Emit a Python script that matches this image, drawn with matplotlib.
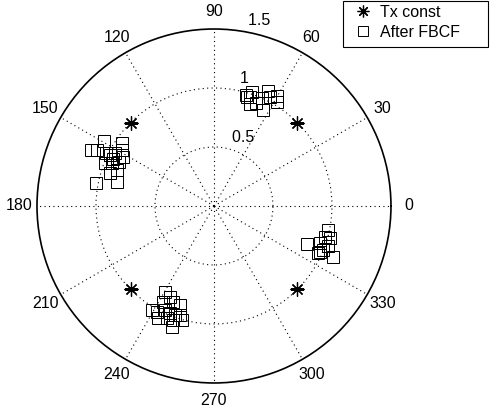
import numpy as np
import matplotlib
matplotlib.use('Agg')
from matplotlib import pyplot as plt
from matplotlib.patches import Rectangle

plt.rcParams['font.family'] = ['Liberation Sans', 'DejaVu Sans']
plt.rcParams['font.size'] = 11.5

# transmitted constellation (deg, radius)
tx_theta = [45, 135, 225, 315]
tx_r = [1.0, 1.0, 1.0, 1.0]

# received symbols after FBCF, four clusters (deg, radius)
c1_theta = [74.1, 71.6, 71.7, 66.0, 67.8, 63.0, 64.8, 62.8, 60.2, 58.8, 70.6, 73.2]
c1_r = [0.978, 1.018, 0.973, 1.000, 0.943, 0.913, 1.077, 1.038, 1.074, 1.030, 0.917, 0.965]
c2_theta = [149.4, 155.6, 154.5, 154.0, 145.6, 148.8, 153.9, 152.0, 151.5, 158.6,
            157.3, 154.9, 162.5, 159.7, 169.1, 166.0, 155.1]
c2_r = [1.083, 1.148, 1.102, 1.018, 0.949, 0.915, 0.982, 0.950, 0.875, 0.992,
        0.940, 0.886, 0.924, 0.879, 1.018, 0.850, 0.941]
c3_theta = [348.1, 344.5, 344.4, 337.7, 340.6, 340.7, 336.7, 335.6, 336.7, 338.1]
c3_r = [0.990, 0.976, 1.020, 0.849, 0.952, 1.026, 0.978, 0.971, 1.101, 0.998]
c4_theta = [240.2, 244.1, 242.1, 247.0, 251.0, 239.1, 241.5, 244.8, 247.7, 250.3,
            252.7, 243.6, 247.2, 250.3, 254.2, 250.7]
c4_r = [0.836, 0.854, 0.918, 0.881, 0.887, 1.027, 1.019, 0.974, 0.983, 0.981,
        0.968, 1.062, 1.033, 1.026, 1.004, 1.084]

rmax = 1.5
r_ticks = [0.5, 1.0, 1.5]
r_labels = ['0.5', '1', '1.5']
theta_ticks = list(range(0, 360, 30))

fig = plt.figure(figsize=(4.9, 4.09), dpi=100)
ax = fig.add_axes([0.0755, 0.0636, 0.7224, 0.8655], projection='polar')

fb_theta = np.deg2rad(np.concatenate([c1_theta, c2_theta, c3_theta, c4_theta]))
fb_r = np.concatenate([c1_r, c2_r, c3_r, c4_r])

ax.plot(np.deg2rad(tx_theta), tx_r, linestyle='none', marker=(8, 2, 0),
        markersize=10, color='k', markeredgewidth=0.9, label='Tx const')
ax.plot(fb_theta, fb_r, linestyle='none', marker='s', markersize=8,
        markerfacecolor='none', markeredgecolor='k', markeredgewidth=0.7,
        label='After FBCF')

ax.set_ylim(0, rmax)
ax.set_rgrids([0.5, 1.0], labels=['', ''])
ax.set_thetagrids(theta_ticks, labels=[''] * len(theta_ticks))
ax.grid(True, linestyle=(0, (1, 3)), color='k', linewidth=0.8)
ax.spines['polar'].set_linewidth(1.2)
ax.tick_params(length=0)

for t in theta_ticks:
    ax.text(np.deg2rad(t), 1.1 * rmax, str(t), ha='center', va='center', clip_on=False)
for r, lab in zip(r_ticks, r_labels):
    ax.text(np.deg2rad(82), r + 0.025, '  ' + lab, ha='left', va='bottom', clip_on=False)

# legend box drawn like matlab's (wide, square corners)
fig.patches.append(Rectangle((0.700, 0.8850), 0.296, 0.1125, transform=fig.transFigure,
                             facecolor='white', edgecolor='k', linewidth=0.8, zorder=0))
leg = fig.legend(loc='upper left', bbox_to_anchor=(0.7245, 0.988), frameon=False,
                 borderpad=0, labelspacing=0.3, handletextpad=0.56,
                 handlelength=1.0, borderaxespad=0, markerscale=0.85)

fig.savefig('out.png', dpi=100)
